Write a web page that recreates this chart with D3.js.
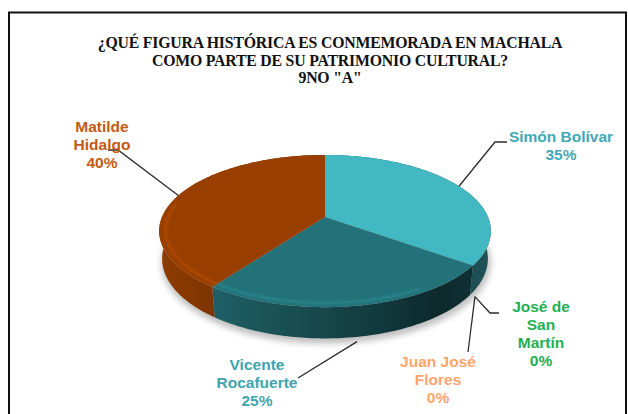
<!DOCTYPE html>
<html>
<head>
<meta charset="utf-8">
<script src="https://cdn.jsdelivr.net/npm/d3@7"></script>
<style>
  html, body { margin: 0; padding: 0; background: #fff; }
  svg { display: block; }
</style>
</head>
<body>
<div id="chart-container"></div>
<script>
// values (order = drawing order, clockwise from 12 o'clock)
const categories = ["Simón Bolívar", "José de San Martín", "Juan José Flores", "Vicente Rocafuerte", "Matilde Hidalgo"];
const values = [35, 0, 0, 25, 40];
const labelLines = [["Simón Bolívar"], ["José de", "San", "Martín"], ["Juan José", "Flores"], ["Vicente", "Rocafuerte"], ["Matilde", "Hidalgo"]];
const titleLines = ["¿QUÉ FIGURA HISTÓRICA ES CONMEMORADA EN MACHALA", "COMO PARTE DE SU PATRIMONIO CULTURAL?", "9NO \"A\""];
const sliceColors = ["#42b8c2", "#2e9c5a", "#f0a070", "#237279", "#983f00"];
const labelColors = ["#41a8b4", "#1fb050", "#ffa56c", "#3fa4ae", "#c45a12"];

const width = 628, height = 414;

// label placement (center x, first baseline) and leader path after the anchor on the pie
const labelLayout = [
  { x: 561, y: 142, level: "top", r: 1, leader: [[495, 142], [507, 142]] },
  { x: 541, y: 312, level: "bottom", r: 1.03, leader: [[490, 313], [499, 313]] },
  { x: 438, y: 367, level: "bottom", r: 1.03, leader: [[468, 352]] },
  { x: 257, y: 370, level: "bottom", r: 1.04, leader: [[298, 378]] },
  { x: 102, y: 132, level: "top", r: 1, leader: [[118, 150], [108, 150]] }
];

// 3d pie projection settings
const cx = 325, cy = 217, k = 163;
const tilt = 26.8 * Math.PI / 180;
const dist = 4.83;
const depth = 0.19;

function project(theta, level, r = 1) {
  const x = r * Math.sin(theta), z = -r * Math.cos(theta), y = level;
  const yv = y * Math.cos(tilt) - z * Math.sin(tilt);
  const zv = y * Math.sin(tilt) + z * Math.cos(tilt);
  const s = dist / (dist - zv);
  return [cx + k * x * s, cy - k * yv * s];
}

function rim(a0, a1, level, r = 1) {
  const n = Math.max(2, Math.ceil(Math.abs(a1 - a0) / (Math.PI / 180)));
  return d3.range(n + 1).map(i => project(a0 + (a1 - a0) * i / n, level, r));
}

const line = d3.line();

const svg = d3.select("#chart-container")
  .append("svg")
  .attr("width", width)
  .attr("height", height)
  .style("font-family", "'Liberation Sans', Arial, sans-serif");

const defs = svg.append("defs");
defs.append("filter").attr("id", "soft").attr("x", "-20%").attr("y", "-20%").attr("width", "140%").attr("height", "140%")
  .append("feGaussianBlur").attr("stdDeviation", 3);
defs.append("filter").attr("id", "glow")
  .append("feGaussianBlur").attr("stdDeviation", 1.2);

// outer frame
svg.append("rect")
  .attr("x", 9).attr("y", 12.5)
  .attr("width", 617).attr("height", 430)
  .attr("fill", "none")
  .attr("stroke", "#111")
  .attr("stroke-width", 2);

// title
svg.append("g")
  .selectAll("text")
  .data(titleLines)
  .join("text")
  .attr("x", 330)
  .attr("y", (d, i) => 48 + i * 17.5)
  .attr("text-anchor", "middle")
  .style("font-family", "'Liberation Serif', 'Times New Roman', serif")
  .style("font-weight", "bold")
  .style("font-size", "15.8px")
  .style("letter-spacing", "-0.2px")
  .attr("fill", "#111")
  .text(d => d);

const pie = d3.pie().sort(null).startAngle(0).endAngle(2 * Math.PI);
const arcs = pie(values);

// soft shadow under the pie
svg.append("path")
  .attr("d", line(rim(0, 2 * Math.PI, -depth, 1.01)) + "Z")
  .attr("transform", "translate(1,4)")
  .attr("fill", "#8a8a8a")
  .attr("opacity", 0.55)
  .attr("filter", "url(#soft)");

// side walls, shaded from left to right
arcs.forEach((a, i) => {
  const c = d3.rgb(sliceColors[i]);
  const g = defs.append("linearGradient")
    .attr("id", "wall" + i)
    .attr("gradientUnits", "userSpaceOnUse")
    .attr("x1", cx - k).attr("x2", cx + k)
    .attr("y1", 0).attr("y2", 0);
  [[0, 0.93], [0.5, 0.62], [0.85, 0.36], [1, 0.45]].forEach(([o, f]) => {
    g.append("stop").attr("offset", o)
      .attr("stop-color", d3.rgb(c.r * f, c.g * f, c.b * f));
  });
});

svg.append("g")
  .selectAll("path")
  .data(arcs.filter(a => a.endAngle > a.startAngle))
  .join("path")
  .attr("d", a => line([...rim(a.startAngle, a.endAngle, 0), ...rim(a.startAngle, a.endAngle, -depth).reverse()]) + "Z")
  .attr("fill", a => `url(#wall${a.index})`);

// top faces
svg.append("g")
  .selectAll("path")
  .data(arcs.filter(a => a.endAngle > a.startAngle))
  .join("path")
  .attr("d", a => line([project(0, 0, 0), ...rim(a.startAngle, a.endAngle, 0)]) + "Z")
  .attr("fill", a => sliceColors[a.index]);

// bevel highlight along the front-left rim
const hiFrom = 2.6, hiTo = 4.9;
svg.append("g")
  .selectAll("path")
  .data(arcs.filter(a => Math.min(a.endAngle, hiTo) > Math.max(a.startAngle, hiFrom)))
  .join("path")
  .attr("d", a => line(rim(Math.max(a.startAngle, hiFrom), Math.min(a.endAngle, hiTo), 0, 0.962)))
  .attr("fill", "none")
  .attr("stroke", a => d3.rgb(sliceColors[a.index]).brighter(0.8))
  .attr("stroke-width", 2.5)
  .attr("opacity", 0.5)
  .attr("filter", "url(#glow)");

// leader lines
svg.append("g")
  .selectAll("path")
  .data(arcs)
  .join("path")
  .attr("d", (a, i) => {
    const lay = labelLayout[i];
    const mid = (a.startAngle + a.endAngle) / 2;
    const anchor = project(mid, lay.level === "top" ? 0 : -depth, lay.r);
    return line([anchor, ...lay.leader]);
  })
  .attr("fill", "none")
  .attr("stroke", "#2b2b2b")
  .attr("stroke-width", 1.3);

// data labels
const labels = svg.append("g")
  .selectAll("text")
  .data(arcs)
  .join("text")
  .attr("text-anchor", "middle")
  .style("font-weight", "bold")
  .style("font-size", "15.5px")
  .attr("fill", (a, i) => labelColors[i]);

labels.each(function (a, i) {
  const lay = labelLayout[i];
  const rows = [...labelLines[i], `${values[i]}%`];
  d3.select(this).selectAll("tspan")
    .data(rows)
    .join("tspan")
    .attr("x", lay.x)
    .attr("y", (d, j) => lay.y + j * 18)
    .text(d => d);
});
</script>
</body>
</html>
